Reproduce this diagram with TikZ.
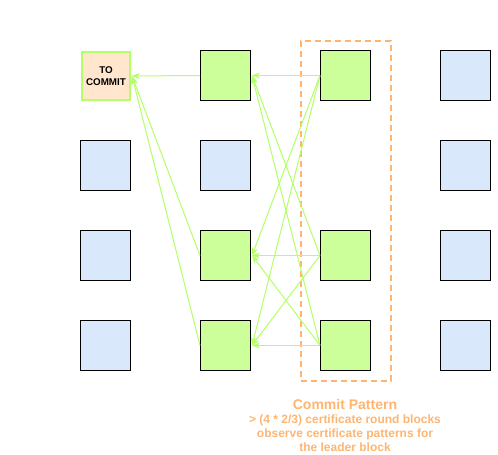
\documentclass[tikz,border=0pt]{standalone}
\usepackage{fontspec}
\setmainfont{Liberation Sans}
\usetikzlibrary{arrows.meta}
\definecolor{gfill}{HTML}{CCFF99}
\definecolor{bfill}{HTML}{DAE8FC}
\definecolor{ofill}{HTML}{FFE6CC}
\definecolor{gline}{HTML}{B3FF66}
\definecolor{oline}{HTML}{FFB570}
\tikzset{
  blk/.style={draw=black, line width=1pt, minimum width=50pt, minimum height=50pt, inner sep=0pt, anchor=north west},
  gblk/.style={blk, fill=gfill},
  bblk/.style={blk, fill=bfill},
  cblk/.style={blk, fill=ofill, draw=gline, line width=2pt, minimum width=48pt, minimum height=48pt, font=\fontsize{9.8}{12}\selectfont\bfseries, align=center},
  link/.style={draw=gline, line width=1pt, -{Stealth[length=8pt,width=6pt,inset=2.5pt]}},
  orange text/.style={text=oline, font=\fontsize{12}{14}\selectfont\bfseries, align=center, inner sep=0pt}
}
\begin{document}
\begin{tikzpicture}[x=1pt,y=-1pt]
\useasboundingbox (0,0) rectangle (498,455);
% dashed frame
\node[draw=oline, line width=2pt, dash pattern=on 6pt off 4pt, minimum width=90pt, minimum height=340pt, inner sep=0pt, anchor=north west] (frame) at (300,40) {};
% column 1
\node[cblk] (c) at (81,51) {TO\\COMMIT};
\node[bblk] (a2) at (80,140) {};
\node[bblk] (a3) at (80,230) {};
\node[bblk] (a4) at (80,320) {};
% column 2
\node[gblk] (b1) at (200,50) {};
\node[bblk] (b2) at (200,140) {};
\node[gblk] (b3) at (200,230) {};
\node[gblk] (b4) at (200,320) {};
% column 3
\node[gblk] (d1) at (320,50) {};
\node[gblk] (d3) at (320,230) {};
\node[gblk] (d4) at (320,320) {};
% column 4
\node[bblk] (e1) at (440,50) {};
\node[bblk] (e2) at (440,140) {};
\node[bblk] (e3) at (440,230) {};
\node[bblk] (e4) at (440,320) {};
% connectors col3 -> col2
\foreach \s in {d1,d3,d4}{
  \foreach \t in {b1,b3,b4}{
    \draw[link] (\s.west) -- ([xshift=1pt]\t.east);
  }
}
% connectors col2 -> to commit
\foreach \s in {b1,b3,b4}{
  \draw[link] (\s.west) -- ([xshift=1pt]c.east);
}
% caption
\node[orange text, font=\fontsize{14}{16}\selectfont\bfseries] (t1) at (345,404) {Commit Pattern};
\node[orange text] (t2) at (345,433) {> (4 * 2/3) certificate round blocks\\observe certificate patterns for\\the leader block};
\end{tikzpicture}
\end{document}
